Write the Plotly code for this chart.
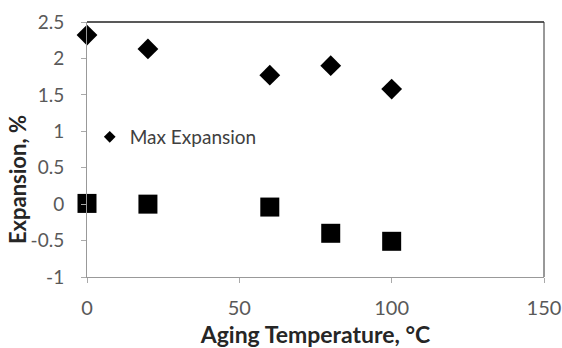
import plotly.graph_objects as go

temps = [0, 20, 60, 80, 100]
max_expansion = [2.32, 2.13, 1.77, 1.90, 1.58]
final_expansion = [0.01, 0.00, -0.04, -0.40, -0.51]

x_ticks = [0, 50, 100, 150]
y_ticks = [-1, -0.5, 0, 0.5, 1, 1.5, 2, 2.5]
y_tick_labels = ["-1", "-0.5", "0", "0.5", "1", "1.5", "2", "2.5"]

FONT = "Lato, Open Sans, sans-serif"

fig = go.Figure()
fig.add_trace(go.Scatter(
    x=temps, y=max_expansion, mode="markers", showlegend=False,
    marker=dict(symbol="diamond", size=16, color="black"),
    cliponaxis=False,
))
fig.add_trace(go.Scatter(
    x=temps, y=final_expansion, mode="markers", showlegend=False,
    marker=dict(symbol="square", size=19, color="black"),
    cliponaxis=False,
))
# legend-only entry
fig.add_trace(go.Scatter(
    x=[None], y=[None], mode="markers", name="Max Expansion",
    marker=dict(symbol="diamond", size=9, color="black"),
))

fig.update_layout(
    width=562, height=348,
    margin=dict(l=87, r=18, t=22, b=71),
    paper_bgcolor="white", plot_bgcolor="white",
    font=dict(family=FONT, size=19, color="#404040"),
    showlegend=True,
    legend=dict(x=0.006, y=0.549, xanchor="left", yanchor="middle",
                bgcolor="rgba(0,0,0,0)", font=dict(size=19, color="#404040"),
                itemwidth=30),
    xaxis=dict(
        range=[0, 150], tickvals=x_ticks, ticks="outside", ticklen=5,
        tickcolor="#aaaaaa", showgrid=False, zeroline=False,
        showline=True, linecolor="#999999", linewidth=1,
        automargin=False, ticklabelstandoff=8,
        tickfont=dict(size=20, color="#595959"),
        title=dict(text="<b>Aging Temperature, °C</b>",
                   font=dict(size=23, color="#262626"), standoff=10),
    ),
    yaxis=dict(
        range=[-1, 2.5], tickvals=y_ticks, ticktext=y_tick_labels,
        ticks="outside", ticklen=5, tickcolor="#aaaaaa",
        showgrid=False, zeroline=False,
        showline=True, linecolor="#999999", linewidth=1,
        automargin=False, ticklabelstandoff=13,
        tickfont=dict(size=19, color="#595959"),
    ),
    annotations=[
        dict(text="<b>Expansion, %</b>", textangle=-90, showarrow=False,
             xref="paper", yref="paper", x=0, y=0.38,
             xanchor="center", yanchor="middle", xshift=-70,
             font=dict(size=22, color="#262626")),
    ],
    shapes=[
        dict(type="line", xref="paper", yref="paper", x0=0, x1=1, y0=1, y1=1,
             line=dict(color="#222222", width=1.5)),
        dict(type="line", xref="paper", yref="paper", x0=1, x1=1, y0=0, y1=1,
             line=dict(color="#333333", width=1)),
    ],
)

fig.write_html(
    "out.html",
    config={"displayModeBar": False},
    post_script="document.body.style.margin='0';document.body.style.overflow='hidden';",
)
